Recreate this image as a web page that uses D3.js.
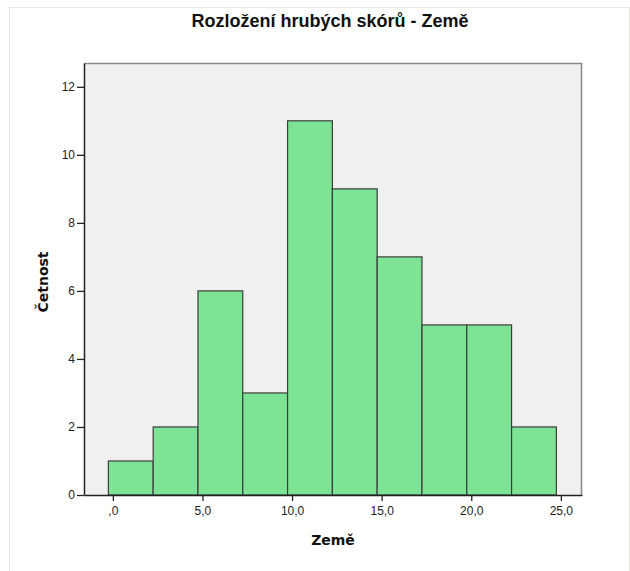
<!DOCTYPE html>
<html>
<head>
<meta charset="utf-8">
<script src="https://d3js.org/d3.v7.min.js"></script>
<style>
  body { margin: 0; background: #fff; }
  svg { display: block; }
  .tick text { font-family: "Liberation Sans", Arial, sans-serif; font-size: 12px; fill: #222; }
</style>
</head>
<body>
<svg id="chart" width="630" height="571"></svg>
<script>
// histogram bins (lower edges) and counts
const binStart = [-0.25, 2.25, 4.75, 7.25, 9.75, 12.25, 14.75, 17.25, 19.75, 22.25];
const binWidth = 2.5;
const counts = [1, 2, 6, 3, 11, 9, 7, 5, 5, 2];
const xTicks = [0, 5, 10, 15, 20, 25];
const xTickLabels = [",0", "5,0", "10,0", "15,0", "20,0", "25,0"];
const yTicks = [0, 2, 4, 6, 8, 10, 12];

const svg = d3.select("#chart");

// outer frame
svg.append("rect")
    .attr("x", 9.5).attr("y", 7.5)
    .attr("width", 620).attr("height", 600)
    .attr("fill", "none")
    .attr("stroke", "#ece8dc");

const plot = { left: 84, right: 582, top: 63, bottom: 495 };

const x = d3.scaleLinear()
    .domain([-1.61, 26.18])
    .range([plot.left, plot.right]);

const y = d3.scaleLinear()
    .domain([0, 12.7])
    .range([plot.bottom, plot.top]);

// plot background
svg.append("rect")
    .attr("x", plot.left).attr("y", plot.top)
    .attr("width", plot.right - plot.left)
    .attr("height", plot.bottom - plot.top)
    .attr("fill", "#f0f0f0");

// top and right border
svg.append("path")
    .attr("d", `M${plot.left},${plot.top + 0.5}H${plot.right - 0.5}V${plot.bottom}`)
    .attr("fill", "none")
    .attr("stroke", "#8a8a8a")
    .attr("stroke-width", 1.5);

// bars
svg.selectAll(".bar")
    .data(counts)
    .enter().append("rect")
    .attr("class", "bar")
    .attr("x", (d, i) => x(binStart[i]))
    .attr("y", d => y(d))
    .attr("width", (d, i) => x(binStart[i] + binWidth) - x(binStart[i]))
    .attr("height", d => y(0) - y(d))
    .attr("fill", "#7de395")
    .attr("stroke", "#3c3c3c")
    .attr("stroke-width", 1.2);

// axes
const xAxis = svg.append("g")
    .attr("transform", `translate(0,${plot.bottom})`)
    .call(d3.axisBottom(x)
        .tickValues(xTicks)
        .tickFormat((d, i) => xTickLabels[i])
        .tickSize(6)
        .tickPadding(5)
        .tickSizeOuter(0));

const yAxis = svg.append("g")
    .attr("transform", `translate(${plot.left},0)`)
    .call(d3.axisLeft(y)
        .tickValues(yTicks)
        .tickSize(7)
        .tickPadding(2)
        .tickSizeOuter(0));

[xAxis, yAxis].forEach(g => {
    g.selectAll(".tick line").attr("stroke", "#222").attr("stroke-width", 1.3);
    g.select(".domain").attr("stroke", "#222").attr("stroke-width", 1.5);
});

// title
svg.append("text")
    .attr("x", 330).attr("y", 27)
    .attr("text-anchor", "middle")
    .attr("font-family", "Liberation Sans, Arial, sans-serif")
    .attr("font-weight", "bold")
    .attr("font-size", 18)
    .attr("fill", "#111")
    .text("Rozložení hrubých skórů - Země");

// axis labels
svg.append("text")
    .attr("x", 333).attr("y", 545)
    .attr("text-anchor", "middle")
    .attr("font-family", "DejaVu Sans, Verdana, sans-serif")
    .attr("font-weight", "bold")
    .attr("font-size", 14)
    .attr("fill", "#111")
    .text("Země");

svg.append("text")
    .attr("transform", "translate(48,282) rotate(-90)")
    .attr("text-anchor", "middle")
    .attr("font-family", "DejaVu Sans, Verdana, sans-serif")
    .attr("font-weight", "bold")
    .attr("font-size", 14)
    .attr("fill", "#111")
    .text("Četnost");
</script>
</body>
</html>
